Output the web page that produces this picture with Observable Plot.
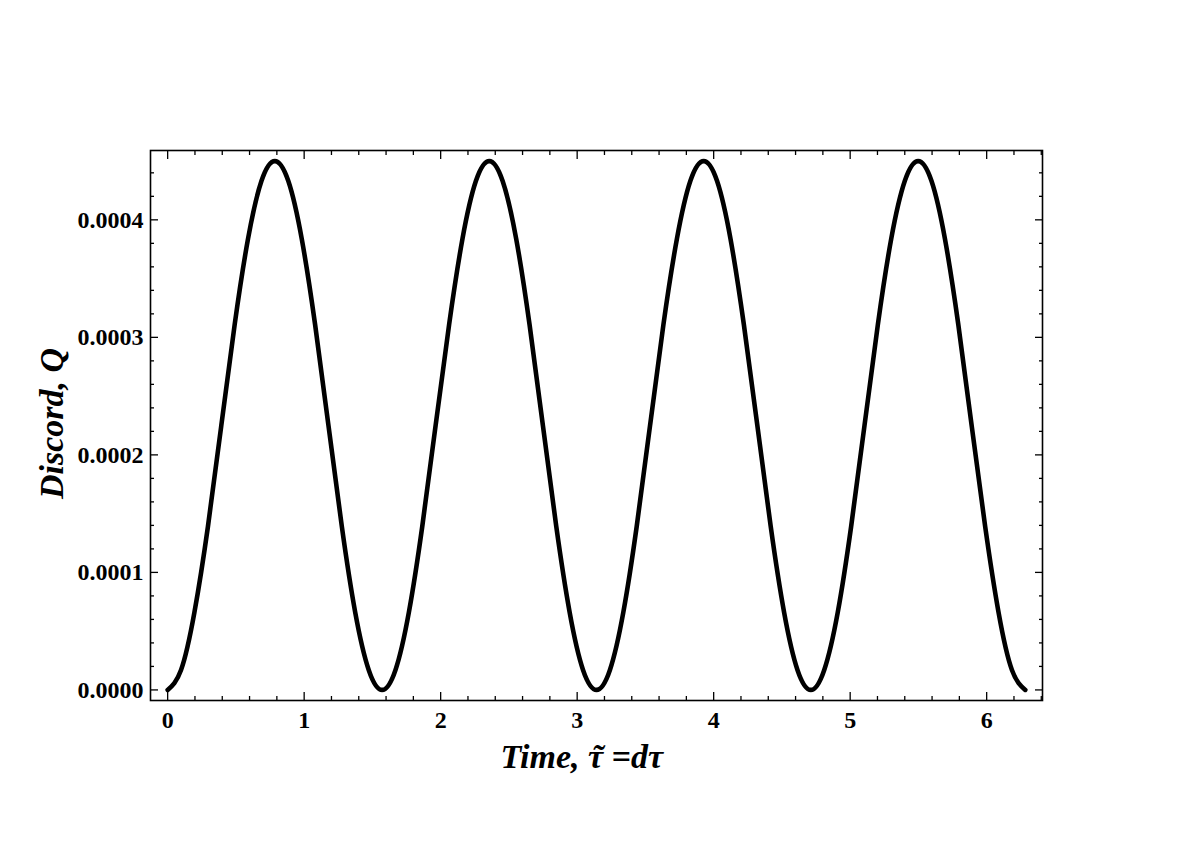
<!DOCTYPE html>
<html>
<head>
<meta charset="utf-8">
<script src="https://cdn.jsdelivr.net/npm/d3@7"></script>
<script src="https://cdn.jsdelivr.net/npm/@observablehq/plot@0.6"></script>
<style>
  html, body { margin: 0; padding: 0; background: #fff; }
  svg { display: block; }
</style>
</head>
<body>
<div id="chart"></div>
<script>
// time values, tau~ = d tau
const tau = [0, 0.098, 0.196, 0.295, 0.393, 0.491, 0.589, 0.687, 0.785, 0.884, 0.982, 1.080, 1.178, 1.276, 1.374, 1.473,
  1.571, 1.669, 1.767, 1.865, 1.963, 2.062, 2.160, 2.258, 2.356, 2.454, 2.553, 2.651, 2.749, 2.847, 2.945, 3.043,
  3.142, 3.240, 3.338, 3.436, 3.534, 3.632, 3.731, 3.829, 3.927, 4.025, 4.123, 4.221, 4.320, 4.418, 4.516, 4.614,
  4.712, 4.810, 4.909, 5.007, 5.105, 5.203, 5.301, 5.400, 5.498, 5.596, 5.694, 5.792, 5.890, 5.989, 6.087, 6.185,
  6.283];
// discord Q, in units of 1e-4
const discord = [0, 0.17, 0.66, 1.39, 2.25, 3.11, 3.84, 4.33, 4.50, 4.33, 3.84, 3.11, 2.25, 1.39, 0.66, 0.17,
  0, 0.17, 0.66, 1.39, 2.25, 3.11, 3.84, 4.33, 4.50, 4.33, 3.84, 3.11, 2.25, 1.39, 0.66, 0.17,
  0, 0.17, 0.66, 1.39, 2.25, 3.11, 3.84, 4.33, 4.50, 4.33, 3.84, 3.11, 2.25, 1.39, 0.66, 0.17,
  0, 0.17, 0.66, 1.39, 2.25, 3.11, 3.84, 4.33, 4.50, 4.33, 3.84, 3.11, 2.25, 1.39, 0.66, 0.17,
  0];

const xMajor = [0, 1, 2, 3, 4, 5, 6];
const xMajorLabels = ["0", "1", "2", "3", "4", "5", "6"];
const xMinor = [0.2, 0.4, 0.6, 0.8, 1.2, 1.4, 1.6, 1.8, 2.2, 2.4, 2.6, 2.8, 3.2, 3.4, 3.6, 3.8,
  4.2, 4.4, 4.6, 4.8, 5.2, 5.4, 5.6, 5.8, 6.2, 6.4];
const yMajor = [0, 0.0001, 0.0002, 0.0003, 0.0004];
const yMajorLabels = ["0.0000", "0.0001", "0.0002", "0.0003", "0.0004"];
const yMinor = [0.00002, 0.00004, 0.00006, 0.00008, 0.00012, 0.00014, 0.00016, 0.00018,
  0.00022, 0.00024, 0.00026, 0.00028, 0.00032, 0.00034, 0.00036, 0.00038, 0.00042, 0.00044];

const xTitle = "Time, \u03C4 =d\u03C4";
const xTitleAccent = "\u02DC";
const yTitle = "Discord, Q";

const data = tau.map((t, i) => ({t, q: discord[i] * 1e-4}));

const font = "'Liberation Serif', 'Times New Roman', serif";
const xLab = new Map(xMajor.map((v, i) => [v, xMajorLabels[i]]));
const yLab = new Map(yMajor.map((v, i) => [v, yMajorLabels[i]]));
const noLab = () => "";
const common = {label: null, stroke: "black", strokeWidth: 1.3};
const titleStyle = {fontSize: 34, fontWeight: "bold", fontStyle: "italic", fill: "black", text: d => d};

const chart = Plot.plot({
  width: 1191,
  height: 850,
  marginLeft: 150,
  marginRight: 149,
  marginTop: 150,
  marginBottom: 150,
  style: {fontFamily: font, background: "white", color: "black"},
  x: {domain: [-0.1257, 6.409]},
  y: {domain: [-0.000009, 0.000459]},
  marks: [
    Plot.line(data, {x: "t", y: "q", stroke: "black", strokeWidth: 4.6, curve: "natural"}),
    Plot.frame({stroke: "black", strokeWidth: 1.6}),
    // major ticks with labels
    Plot.axisX(xMajor, {...common, anchor: "bottom", tickSize: -8, tickPadding: 18, tickFormat: d => xLab.get(d),
      fontSize: 24, fontWeight: "bold"}),
    Plot.axisY(yMajor, {...common, anchor: "left", tickSize: -8, tickPadding: 15, tickFormat: d => yLab.get(d),
      fontSize: 24, fontWeight: "bold"}),
    Plot.axisX(xMajor, {...common, anchor: "top", tickSize: -8, tickFormat: noLab}),
    Plot.axisY(yMajor, {...common, anchor: "right", tickSize: -8, tickFormat: noLab}),
    // minor ticks
    Plot.axisX(xMinor, {...common, anchor: "bottom", tickSize: -4, tickFormat: noLab}),
    Plot.axisX(xMinor, {...common, anchor: "top", tickSize: -4, tickFormat: noLab}),
    Plot.axisY(yMinor, {...common, anchor: "left", tickSize: -4, tickFormat: noLab}),
    Plot.axisY(yMinor, {...common, anchor: "right", tickSize: -4, tickFormat: noLab}),
    // titles
    Plot.text([xTitle], {...titleStyle, frameAnchor: "bottom", lineAnchor: "middle", textAnchor: "start",
      dx: -96, dy: 57}),
    Plot.text([xTitleAccent], {...titleStyle, frameAnchor: "bottom", lineAnchor: "middle", textAnchor: "middle",
      dx: 1, dy: 57}),
    Plot.text([yTitle], {...titleStyle, frameAnchor: "left", lineAnchor: "middle", textAnchor: "middle",
      dx: -98, dy: -2, rotate: -90})
  ]
});
document.getElementById("chart").append(chart);
</script>
</body>
</html>
